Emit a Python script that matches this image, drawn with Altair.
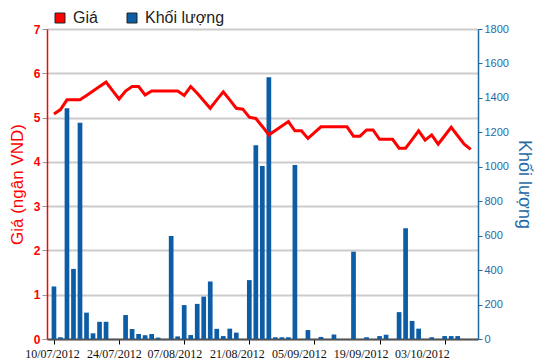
import altair as alt
import pandas as pd

# ---- data ----
day_index = list(range(65))
price = [5.08, 5.18, 5.40, 5.40, 5.40, 5.50, 5.60, 5.70, 5.80, 5.61, 5.42,
         5.60, 5.70, 5.70, 5.51, 5.60, 5.60, 5.60, 5.60, 5.60, 5.50, 5.70,
         5.55, 5.38, 5.21, 5.40, 5.58, 5.40, 5.21, 5.19, 5.01, 4.98, 4.80,
         4.61, 4.71, 4.81, 4.91, 4.70, 4.70, 4.53, 4.66, 4.79, 4.79, 4.79,
         4.79, 4.79, 4.58, 4.58, 4.72, 4.72, 4.51, 4.51, 4.51, 4.31, 4.31,
         4.50, 4.70, 4.49, 4.61, 4.40, 4.59, 4.78, 4.59, 4.40, 4.28]
volume = [305, 10, 1340, 407, 1256, 153, 33, 100, 100, 0, 0,
          139, 58, 29, 22, 29, 8, 0, 598, 15, 197, 23,
          204, 246, 334, 59, 17, 60, 37, 0, 342, 1125, 1005,
          1520, 10, 10, 10, 1010, 0, 52, 0, 12, 0, 26,
          0, 0, 507, 0, 10, 0, 17, 25, 0, 156, 643,
          105, 60, 0, 10, 0, 17, 17, 17, 0, 0]
date_labels = ["10/07/2012", "24/07/2012", "07/08/2012", "21/08/2012",
               "05/09/2012", "19/09/2012", "03/10/2012"]
series_names = ["Giá", "Khối lượng"]

# axis positions (index units)
tick_idx = [0, 10, 20, 30, 40, 50, 60]
label_pos = [-0.3, 9.2, 18.5, 28.1, 37.6, 47.1, 56.5]

df = pd.DataFrame({"i": day_index, "price": price, "volume": volume,
                   "series": "Khối lượng"})

RED = "#ff0000"
BLUE = "#0c5da5"
BLUE_AX = "#1f6aa6"

xscale = alt.Scale(domain=[-0.3, 64.35], nice=False, zero=False)
label_expr = ("[" + ",".join("'%s'" % s for s in date_labels) + "][indexof(["
              + ",".join(str(v) for v in label_pos) + "], datum.value)]")

bars = alt.Chart(df).mark_bar(size=4.7).encode(
    x=alt.X("i:Q", scale=xscale,
            axis=alt.Axis(orient="bottom", values=tick_idx, labels=False,
                          ticks=True, tickSize=5, tickColor="#000",
                          tickWidth=1, domainColor="#555", domainWidth=2,
                          grid=False, title=None)),
    y=alt.Y("volume:Q", scale=alt.Scale(domain=[0, 1800], nice=False),
            axis=alt.Axis(orient="right", values=list(range(0, 1801, 200)),
                          format="d",
                          title="Khối lượng", titleColor=BLUE_AX,
                          titleFontSize=18, titleFont="Liberation Sans",
                          titleFontWeight="normal", titlePadding=6,
                          labelColor=BLUE_AX, labelFontSize=11,
                          labelFont="Liberation Sans", labelPadding=2,
                          tickColor=BLUE_AX, tickSize=4,
                          domainColor=BLUE_AX, domainWidth=1.5, grid=False)),
    color=alt.Color("series:N",
                    scale=alt.Scale(domain=series_names, range=[RED, BLUE]),
                    legend=alt.Legend(orient="none", direction="horizontal",
                                      legendX=5, legendY=-19, title=None,
                                      symbolType="square", symbolSize=100,
                                      symbolStrokeColor="#222",
                                      symbolStrokeWidth=1, symbolOpacity=1,
                                      labelFontSize=16,
                                      labelFont="Liberation Sans",
                                      labelColor="#222", labelOffset=5,
                                      columnPadding=26, padding=0)),
)

line = alt.Chart(df).mark_line(color=RED, strokeWidth=3).encode(
    x=alt.X("i:Q", scale=xscale,
            axis=alt.Axis(orient="bottom", values=label_pos,
                          labelExpr=label_expr, ticks=False, domain=False,
                          grid=False, title=None, labelPadding=9,
                          labelFont="Liberation Sans Narrow",
                          labelFontSize=12, labelColor="#111",
                          labelOverlap=False, labelFlush=False)),
    y=alt.Y("price:Q", scale=alt.Scale(domain=[0, 7], nice=False),
            axis=alt.Axis(orient="left", values=list(range(0, 8)),
                          title="Giá (ngân VND)", titleColor=RED,
                          titleFontSize=17, titleFont="Liberation Sans",
                          titleFontWeight="normal", titlePadding=7,
                          labelColor=RED, labelFontSize=12,
                          labelFont="Liberation Sans", labelFontWeight="bold",
                          labelPadding=2, tickColor="#999", tickSize=5,
                          domainColor=RED, domainWidth=1.5,
                          grid=True, gridColor="#cccccc", gridWidth=2)),
)

chart = alt.layer(bars, line).resolve_scale(
    y="independent", color="independent"
).resolve_axis(x="independent").properties(
    width=431, height=310,
    autosize=alt.AutoSizeParams(type="none"),
    padding={"left": 39, "top": 21, "right": 64, "bottom": 20},
).configure_view(stroke="#555", strokeWidth=2).configure(background="white")

chart.save("out.html", embed_options={"renderer": "svg", "actions": False})
